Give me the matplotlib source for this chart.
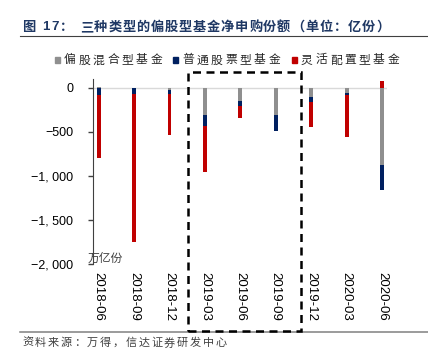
import numpy as np
import matplotlib.pyplot as plt
from matplotlib.patches import Rectangle
from matplotlib.lines import Line2D

plt.rcParams['font.family'] = ['Liberation Sans', 'Noto Sans CJK SC', 'DejaVu Sans']

quarters = ['2018-06', '2018-09', '2018-12', '2019-03', '2019-06',
            '2019-09', '2019-12', '2020-03', '2020-06']
hunhe = [15, -5, -27, -303, -144, -303, -106, -57, -879]     # 偏股混合型基金
gupiao = [-83, -65, -38, -133, -64, -189, -53, -27, -277]    # 普通股票型基金
linghuo = [-712, -1678, -473, -519, -133, 0, -284, -470, 76] # 灵活配置型基金

names = ['偏股混合型基金', '普通股票型基金', '灵活配置型基金']
colors = ['#8f8f8f', '#002060', '#c00000']
yticks = [0, -500, -1000, -1500, -2000]

W, H = 428, 354
fig = plt.figure(figsize=(W / 100, H / 100), dpi=100)
renderer = fig.canvas.get_renderer()


def tracked(xpx, ypx, s, size, track, **kw):
    """draw text char by char (pixel coords from top-left) with extra spacing"""
    x = xpx
    em = size * 100 / 72
    for ch in s:
        if ch == ' ':
            x += em * 0.35
            continue
        if ord(ch) > 0x2e80:
            # full-width glyph: fixed pitch, centred in its cell
            fig.text((x + em / 2) / W, 1 - ypx / H, ch, fontsize=size, va='center',
                     ha='center', family=['Noto Sans CJK SC'], **kw)
            x += em + track
        else:
            t = fig.text(x / W, 1 - ypx / H, ch, fontsize=size, va='center', ha='left',
                         family=['Liberation Sans', 'Noto Sans CJK SC'], **kw)
            x += t.get_window_extent(renderer).width + 1.5
    return x


ax = fig.add_axes([92.7 / W, 1 - 264 / H, 294.3 / W, 185 / H])

x = np.arange(len(quarters))
series = [hunhe, gupiao, linghuo]
pos_base = np.zeros(len(x))
neg_base = np.zeros(len(x))
for vals, c in zip(series, colors):
    v = np.array(vals, dtype=float)
    base = np.where(v >= 0, pos_base, neg_base)
    ax.bar(x, v, width=0.11, bottom=base, color=c, zorder=3)
    pos_base += np.where(v >= 0, v, 0)
    neg_base += np.where(v < 0, v, 0)

ax.axhline(0, color='#d9d9d9', lw=1, zorder=1)
ax.set_xlim(-0.17, 8.14)
ax.set_ylim(-2000, 102)
ax.set_yticks(yticks)
ax.set_yticklabels(['0' if t == 0 else '\u2212' + '{:,}'.format(-t).replace(',', ', ')
                    for t in yticks], fontsize=9)
ax.set_xticks(x)
ax.set_xticklabels(quarters, rotation=-90, fontsize=9.5)
ax.tick_params(axis='x', length=0, pad=6)
ax.tick_params(axis='y', length=3.6, width=1, color='#404040', pad=10.5)
for s in ['top', 'right', 'bottom']:
    ax.spines[s].set_visible(False)
ax.spines['left'].set_color('#404040')

# dashed box around 2019-03 .. 2019-09
fig.patches.append(Rectangle((187.5 / W, 1 - 331 / H), 113 / W, 259 / H,
                             transform=fig.transFigure, fill=False, ec='black',
                             lw=1.8, ls=(0, (3.2, 2.2)), zorder=5))

fig.text(88 / W, 1 - 258 / H, '万亿份', fontsize=8.5, color='#404040',
         family=['Noto Sans CJK SC'], va='center', ha='left')

# title and rules
tracked(22, 27, '图', 9.5, 0, fontweight='bold', color='#1f3864')
tracked(42, 27, '17：', 9.5, 0.5, fontweight='bold', color='#1f3864')
tracked(80, 27, '三种类型的偏股型基金净申购份额（单位：亿份）', 9.5, 0.9,
        fontweight='bold', color='#1f3864')
fig.add_artist(Line2D([20 / W, 1], [1 - 36 / H] * 2, color='#404040', lw=0.8))
fig.add_artist(Line2D([20 / W, 1], [1 - 331.5 / H] * 2, color='#808080', lw=1.1))
tracked(22, 343, '资料来源：万得，信达证券研发中心', 8, 1.8, color='#404040')

# legend
for mx, tx, c, name in zip([55, 173, 292], [64, 182, 301], colors, names):
    fig.patches.append(Rectangle((mx / W, 1 - 62.5 / H), 5 / W, 5 / H,
                                 transform=fig.transFigure, color=c))
    tracked(tx, 60, name, 8.5, 2.6, color='#262626')

fig.savefig('out.png', dpi=100)
